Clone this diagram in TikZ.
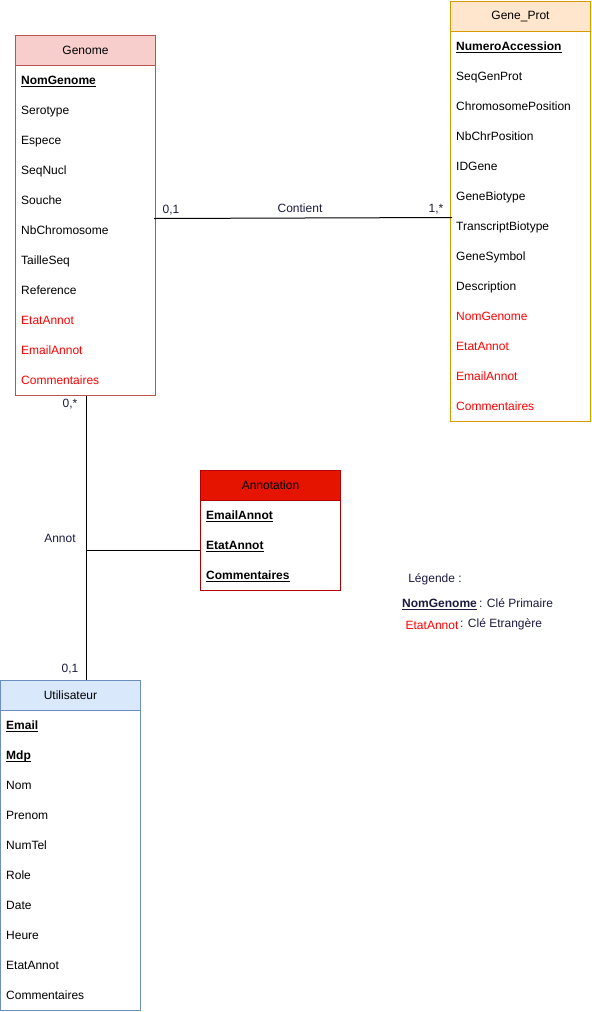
\documentclass[tikz,border=0pt]{standalone}
\usepackage{fontspec}
\setmainfont{Liberation Sans}
\definecolor{genfill}{HTML}{F8CECC}
\definecolor{genstroke}{HTML}{B85450}
\definecolor{gpfill}{HTML}{FFE6CC}
\definecolor{gpstroke}{HTML}{D79B00}
\definecolor{anfill}{HTML}{E51400}
\definecolor{anstroke}{HTML}{B20000}
\definecolor{utfill}{HTML}{DAE8FC}
\definecolor{utstroke}{HTML}{6C8EBF}
\definecolor{navy}{HTML}{1A1A40}
\definecolor{fkred}{HTML}{FF0000}
\newcommand\fsz{\fontsize{12bp}{14bp}\selectfont}
\newcommand\pkey[1]{\setbox0\hbox{\bfseries #1}\rlap{\rule[-2bp]{\wd0}{0.8bp}}\box0}
\newcommand\fkey[1]{\textcolor{fkred}{#1}}
\begin{document}
\begin{tikzpicture}[x=1bp,y=-1bp,
  ent/.style={draw, line width=1bp, minimum width=140bp, inner sep=0pt, anchor=north west},
  hdr/.style={draw, line width=1bp, minimum width=140bp, minimum height=30bp, inner sep=0pt, anchor=north west, font=\fsz},
  rowtxt/.style={anchor=base west, inner sep=0pt, font=\fsz},
  lbl/.style={text=navy, inner sep=0pt, font=\fsz, anchor=base},
  conn/.style={draw=black, line width=1bp}]
\useasboundingbox (0,0) rectangle (592,1012);

% Genome
\node[ent, draw=genstroke, minimum height=360bp] (genome) at (15,35) {};
\node[hdr, draw=genstroke, fill=genfill] (genome-h) at (15,35) {Genome};
\foreach \t [count=\i] in {{\pkey{NomGenome}},Serotype,Espece,SeqNucl,Souche,NbChromosome,TailleSeq,Reference,{\fkey{EtatAnnot}},{\fkey{EmailAnnot}},{\fkey{Commentaires}}}
  \node[rowtxt] (genome-\i) at (21,54.5+30*\i) {\t};

% Gene_Prot
\node[ent, draw=gpstroke, minimum height=420bp] (gene) at (450,1) {};
\node[hdr, draw=gpstroke, fill=gpfill] (gene-h) at (450,1) {Gene\_Prot};
\foreach \t [count=\i] in {{\pkey{NumeroAccession}},SeqGenProt,ChromosomePosition,NbChrPosition,IDGene,GeneBiotype,TranscriptBiotype,GeneSymbol,Description,{\fkey{NomGenome}},{\fkey{EtatAnnot}},{\fkey{EmailAnnot}},{\fkey{Commentaires}}}
  \node[rowtxt] (gene-\i) at (456,20.5+30*\i) {\t};

% Annotation
\node[ent, draw=anstroke, minimum height=120bp] (annot) at (200,470) {};
\node[hdr, draw=anstroke, fill=anfill] (annot-h) at (200,470) {Annotation};
\foreach \t [count=\i] in {{\pkey{EmailAnnot}},{\pkey{EtatAnnot}},{\pkey{Commentaires}}}
  \node[rowtxt] (annot-\i) at (206,489.5+30*\i) {\t};

% Utilisateur
\node[ent, draw=utstroke, minimum height=330bp] (util) at (0,680) {};
\node[hdr, draw=utstroke, fill=utfill] (util-h) at (0,680) {Utilisateur};
\foreach \t [count=\i] in {{\pkey{Email}},{\pkey{Mdp}},Nom,Prenom,NumTel,Role,Date,Heure,EtatAnnot,Commentaires}
  \node[rowtxt] (util-\i) at (6,699.5+30*\i) {\t};

% Contient
\draw[conn] ([shift={(-2,3)}]genome.east) -- ([shift={(2,6)}]gene.west);
\node[lbl] (c-l) at (171,213.5) {0,1};
\node[lbl] (c-m) at (300,212.5) {Contient};
\node[lbl] (c-r) at (436,212.5) {1,*};

% Annot
\coordinate (gs) at ([xshift=1]genome.south);
\coordinate (aj) at (86,550);
\draw[conn] (gs) -- (gs |- util.north);
\draw[conn] (aj) -- (aj -| annot.west);
\node[lbl] (a-t) at (70,407.5) {0,*};
\node[lbl] (a-m) at (60,542.5) {Annot};
\node[lbl] (a-b) at (70,672.5) {0,1};

% Legende
\node[lbl] (leg) at (435,582.5) {Légende :};
\node[lbl] (leg-pk) at (439.5,607.5) {\pkey{NomGenome}};
\node[lbl, anchor=base west] (leg-pkt) at (479,607.5) {: Clé Primaire};
\node[lbl] (leg-fk) at (432,629.5) {\fkey{EtatAnnot}};
\node[lbl, anchor=base west] (leg-fkt) at (460,627.5) {: Clé Etrangère};
\end{tikzpicture}
\end{document}
